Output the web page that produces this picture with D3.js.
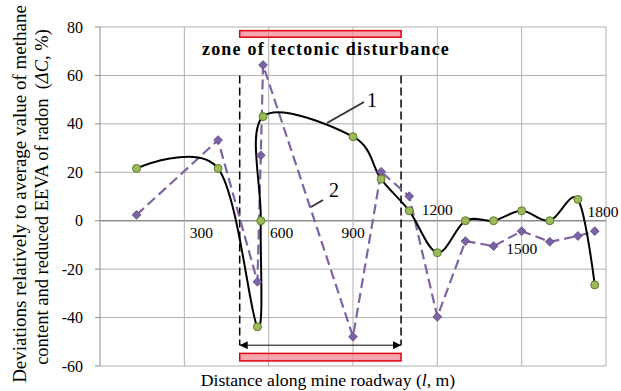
<!DOCTYPE html>
<html>
<head>
<meta charset="utf-8">
<script src="https://cdn.jsdelivr.net/npm/d3@7"></script>
<style>
  body { margin: 0; background: #fff; }
  svg { font-family: "Liberation Serif", "Times New Roman", serif; }
</style>
</head>
<body>
<script>
// series 1: methane deviation (smooth black line, green circles)
const methaneX = [130, 420, 560, 572, 580, 900, 1000, 1100, 1200, 1300, 1400, 1500, 1600, 1700, 1760];
const methaneY = [21.6, 21.6, -43.8, 0, 43, 34.7, 17.2, 4.1, -13.2, 0, 0, 4.1, 0, 8.8, -26.5];
// series 2: radon EEVA deviation (dashed purple line, diamonds)
const radonX = [130, 420, 560, 572, 580, 900, 1000, 1100, 1200, 1300, 1400, 1500, 1600, 1700, 1760];
const radonY = [2.4, 33.3, -25.2, 27, 64.3, -47.9, 20.2, 10.1, -39.7, -8.4, -10.5, -4.3, -8.7, -6.3, -4.3];

const xTicks = [300, 600, 900, 1200, 1500, 1800];
const yTicks = [-60, -40, -20, 0, 20, 40, 60, 80];
const zone = [497, 1071];

const width = 621, height = 391;
const margin = { top: 27, right: 15, bottom: 25, left: 100 };

const svg = d3.select("body").append("svg")
  .attr("width", width).attr("height", height);

const x = d3.scaleLinear().domain([0, 1800]).range([margin.left, width - margin.right]);
const y = d3.scaleLinear().domain([-60, 80]).range([height - margin.bottom, margin.top]);

// grid
svg.append("g").selectAll("line").data(yTicks).enter().append("line")
  .attr("x1", x(0)).attr("x2", x(1800))
  .attr("y1", d => y(d)).attr("y2", d => y(d))
  .attr("stroke", d => d === 0 ? "#8c8c8c" : "#b0b0b0").attr("stroke-width", d => d === 0 ? 1.5 : 1);
svg.append("g").selectAll("line").data([0].concat(xTicks)).enter().append("line")
  .attr("x1", d => x(d)).attr("x2", d => x(d))
  .attr("y1", y(80)).attr("y2", y(-60))
  .attr("stroke", d => d === 0 ? "#8c8c8c" : "#b0b0b0");

// y ticks + labels
const yAxis = svg.append("g");
yAxis.selectAll("line").data(yTicks).enter().append("line")
  .attr("x1", x(0) - 5).attr("x2", x(0))
  .attr("y1", d => y(d)).attr("y2", d => y(d))
  .attr("stroke", "#8c8c8c");
yAxis.selectAll("text").data(yTicks).enter().append("text")
  .attr("x", x(0) - 17).attr("y", d => y(d)).attr("dy", "0.35em")
  .attr("text-anchor", "end").style("font-size", "16px")
  .text(d => d);

// x tick labels (placed by hand in the original, near the zero line)
const xLabelShift = { 300: [17, 12], 600: [13, 12], 900: [0, 12], 1200: [0, -11], 1500: [0, 28], 1800: [-3, -9] };
svg.append("g").selectAll("text").data(xTicks).enter().append("text")
  .attr("x", d => x(d) + xLabelShift[d][0]).attr("y", d => y(0) + xLabelShift[d][1]).attr("dy", "0.35em")
  .attr("text-anchor", "middle").style("font-size", "15.5px")
  .text(d => d);

// zone of tectonic disturbance
const zoneG = svg.append("g");
zoneG.selectAll("line.zl").data(zone).enter().append("line")
  .attr("x1", d => x(d)).attr("x2", d => x(d))
  .attr("y1", y(60)).attr("y2", y(-51.4))
  .attr("stroke", "#000").attr("stroke-width", 1.5).attr("stroke-dasharray", "8,4");
[[78.5, 75.8], [-54.8, -57.9]].forEach(b => {
  zoneG.append("rect")
    .attr("x", x(zone[0])).attr("width", x(zone[1]) - x(zone[0]))
    .attr("y", y(b[0])).attr("height", y(b[1]) - y(b[0]))
    .attr("fill", "#f08a94").attr("fill-opacity", 0.75)
    .attr("stroke", "#e00010").attr("stroke-width", 1.5);
});
svg.append("defs").append("marker")
  .attr("id", "arr").attr("viewBox", "0 0 10 10").attr("refX", 10).attr("refY", 5)
  .attr("markerWidth", 10).attr("markerHeight", 8).attr("markerUnits", "userSpaceOnUse")
  .attr("orient", "auto-start-reverse")
  .append("path").attr("d", "M0,0L10,5L0,10z").attr("fill", "#000");
zoneG.append("line")
  .attr("x1", x(zone[0])).attr("x2", x(zone[1]))
  .attr("y1", y(-51.4)).attr("y2", y(-51.4))
  .attr("stroke", "#000").attr("stroke-width", 1)
  .attr("marker-start", "url(#arr)").attr("marker-end", "url(#arr)");
zoneG.append("text")
  .attr("x", 326).attr("y", 55).attr("text-anchor", "middle")
  .style("font-size", "18px").style("font-weight", "bold").style("letter-spacing", "1.2px")
  .text("zone of tectonic disturbance");

// series 2: dashed purple
const radon = radonX.map((d, i) => [d, radonY[i]]);
svg.append("path").datum(radon)
  .attr("d", d3.line().x(d => x(d[0])).y(d => y(d[1])))
  .attr("fill", "none").attr("stroke", "#8064a2").attr("stroke-width", 2.2)
  .attr("stroke-dasharray", "10,5");

// series 1: smooth black
const methane = methaneX.map((d, i) => [d, methaneY[i]]);
svg.append("path").datum(methane)
  .attr("d", d3.line().x(d => x(d[0])).y(d => y(d[1])).curve(d3.curveCatmullRom.alpha(0)))
  .attr("fill", "none").attr("stroke", "#000").attr("stroke-width", 2);

svg.append("g").selectAll("path").data(radon).enter().append("path")
  .attr("transform", d => `translate(${x(d[0])},${y(d[1])})`)
  .attr("d", d3.symbol().type(d3.symbolDiamond2).size(50))
  .attr("fill", "#7b62a3").attr("stroke", "#5f4a85").attr("stroke-width", 0.8);

svg.append("g").selectAll("circle").data(methane).enter().append("circle")
  .attr("cx", d => x(d[0])).attr("cy", d => y(d[1])).attr("r", 4)
  .attr("fill", "#9bbb59").attr("stroke", "#5e7a2c").attr("stroke-width", 1);

// curve labels with leader lines
svg.append("line").attr("x1", 364).attr("y1", 102).attr("x2", 327).attr("y2", 123)
  .attr("stroke", "#333").attr("stroke-width", 2);
svg.append("text").attr("x", 372).attr("y", 107).attr("text-anchor", "middle")
  .style("font-size", "20px").text("1");
svg.append("line").attr("x1", 323).attr("y1", 200).attr("x2", 311).attr("y2", 207)
  .attr("stroke", "#333").attr("stroke-width", 2);
svg.append("text").attr("x", 334).attr("y", 197).attr("text-anchor", "middle")
  .style("font-size", "20px").text("2");

// axis titles
svg.append("text").attr("transform", "translate(26,194) rotate(-90)")
  .attr("text-anchor", "middle").style("font-size", "19px")
  .text("Deviations relatively to average value of methane");
const yTitle2 = svg.append("text").attr("transform", "translate(48,197) rotate(-90)")
  .attr("text-anchor", "middle").style("font-size", "18.5px").style("white-space", "pre");
yTitle2.append("tspan").text("content and reduced EEVA of radon  (");
yTitle2.append("tspan").style("font-style", "italic").text("ΔC");
yTitle2.append("tspan").text(", %)");

const xTitle = svg.append("text").attr("x", 328).attr("y", 386)
  .attr("text-anchor", "middle").style("font-size", "17.7px");
xTitle.append("tspan").text("Distance along mine roadway (");
xTitle.append("tspan").style("font-style", "italic").text("l");
xTitle.append("tspan").text(", m)");
</script>
</body>
</html>
